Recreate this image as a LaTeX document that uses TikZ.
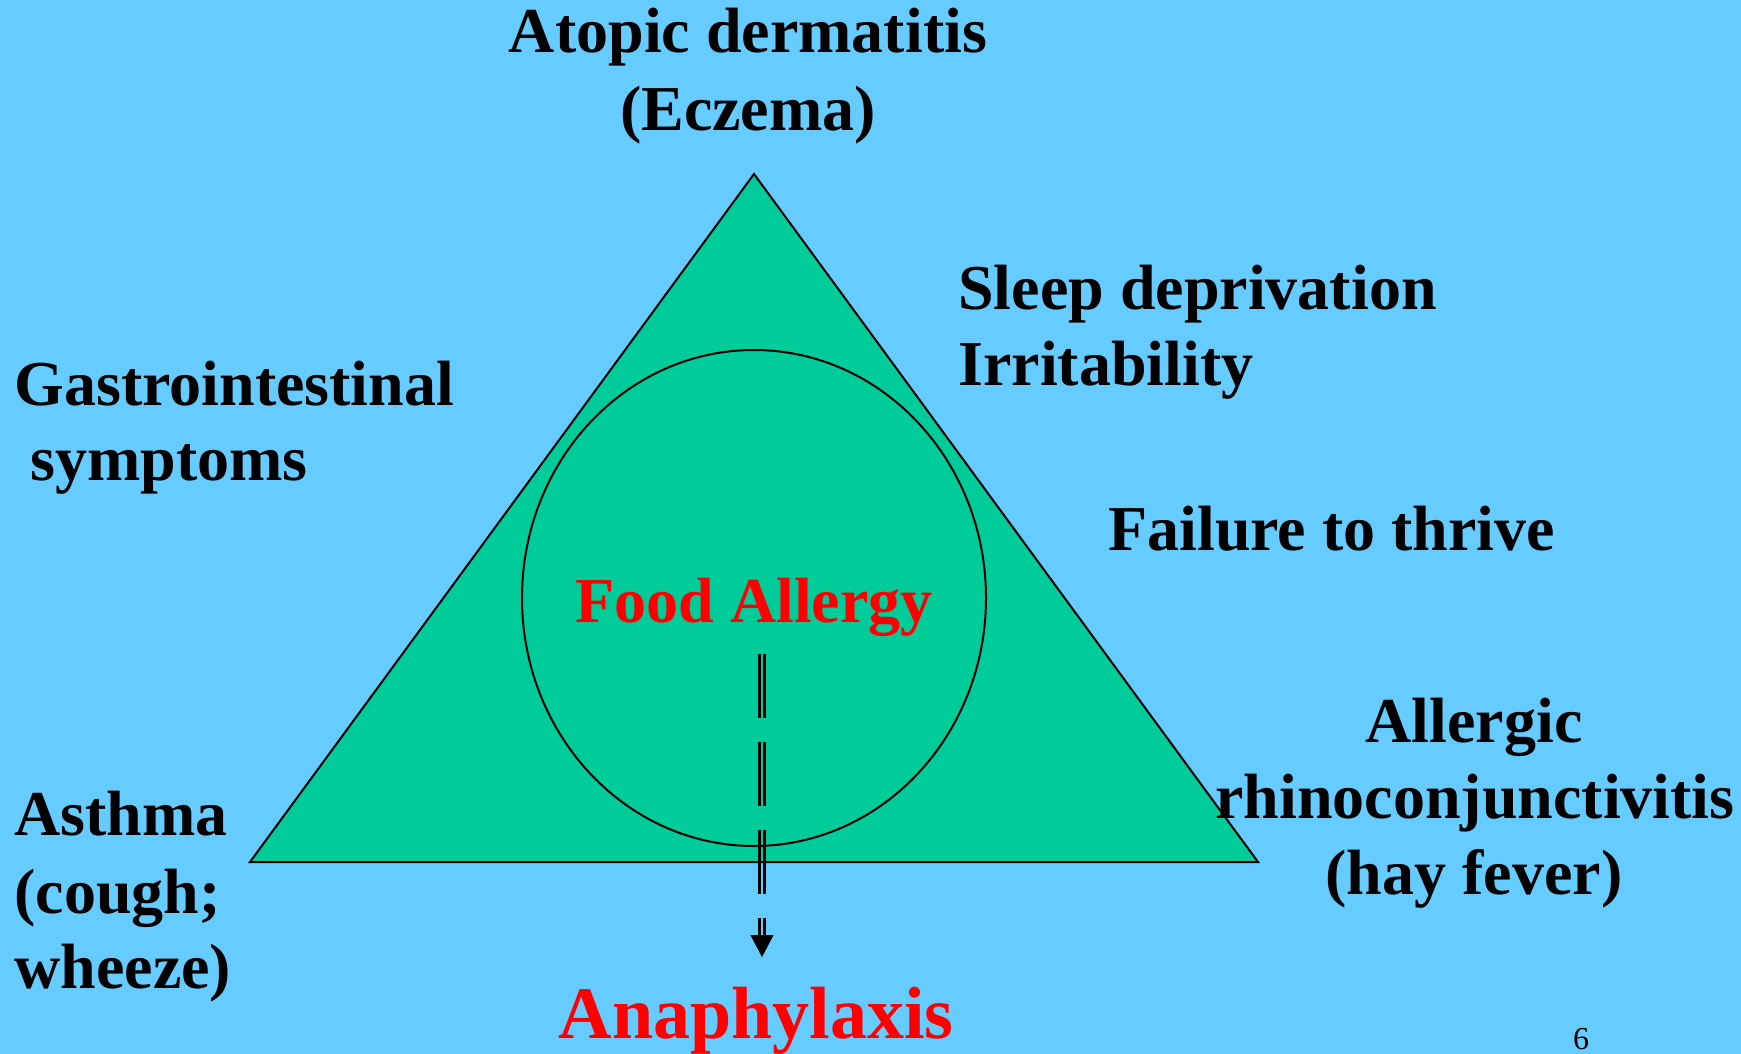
\documentclass[tikz,border=0pt]{standalone}
\usepackage{fontspec}
\setmainfont{Liberation Serif}
\definecolor{bg}{HTML}{66CCFF}
\definecolor{tri}{HTML}{00CC99}
\definecolor{fred}{HTML}{FF0000}
\begin{document}
\begin{tikzpicture}[x=0.5pt,y=-0.5pt,
  lbl/.style={font=\fontsize{32}{38.5}\selectfont\bfseries, inner sep=0pt},
  redlbl/.style={lbl, text=fred},
  outl/.style={draw=black, line width=1pt},
  dline/.style={line width=1.3pt, dash pattern=on 32pt off 12pt}]
\fill[bg] (0,0) rectangle (1741,1054);
\useasboundingbox (0,0) rectangle (1741,1054);
% triangle and circle
\coordinate (apex) at (754,174);
\coordinate (bl) at (250,862);
\coordinate (br) at (1258,862);
\filldraw[fill=tri, outl] (apex) -- (bl) -- (br) -- cycle;
\draw[outl] (754,598) ellipse [x radius=232, y radius=248];
% labels
\node[lbl, anchor=base] (t1) at (748,53) {Atopic dermatitis};
\node[lbl, anchor=base] (t2) at (748,131) {(Eczema)};
\node[lbl, anchor=base west] (s1) at (958,309) {Sleep deprivation};
\node[lbl, anchor=base west] (s2) at (958,385) {Irritability};
\node[lbl, anchor=base west] (g1) at (14,405) {Gastrointestinal};
\node[lbl, anchor=base west] (g2) at (30,480) {symptoms};
\node[lbl, anchor=base west] (f1) at (1108,550) {Failure to thrive};
\node[redlbl, anchor=base] (food) at (754,622) {Food Allergy};
\node[lbl, anchor=base] (a1) at (1474,742) {Allergic};
\node[lbl, anchor=base] (a2) at (1475,818) {rhinoconjunctivitis};
\node[lbl, anchor=base] (a3) at (1474,894) {(hay fever)};
\node[lbl, anchor=base west] (h1) at (14,835) {Asthma};
\node[lbl, anchor=base west] (h2) at (14,913) {(cough;};
\node[lbl, anchor=base west] (h3) at (14,988) {wheeze)};
\node[redlbl, font=\fontsize{37}{44}\selectfont\bfseries, anchor=base] (ana) at (756,1038) {Anaphylaxis};
\node[font=\fontsize{16}{19}\selectfont, inner sep=0pt, anchor=base] (pg) at (1581,1049) {6};
% arrow
\coordinate (arrS) at (762,654);
\coordinate (arrE) at (762,935);
\coordinate (tipE) at (762,957);
\draw[dline] ([xshift=-1.15pt]arrS) -- ([xshift=-1.15pt]arrE);
\draw[dline] ([xshift=1.15pt]arrS) -- ([xshift=1.15pt]arrE);
\fill[black] ([xshift=-5.8pt]arrE) -- ([xshift=5.8pt]arrE) -- (tipE) -- cycle;
\end{tikzpicture}
\end{document}
